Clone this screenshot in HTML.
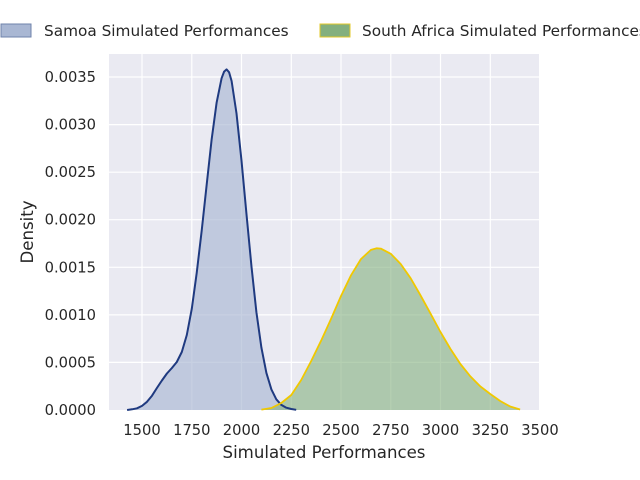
<!DOCTYPE html>
<html><head><meta charset="utf-8"><style>
body{margin:0;background:#fff;}
svg{display:block;font-family:"DejaVu Sans","Liberation Sans",sans-serif;}
</style></head><body>
<svg width="640" height="480" viewBox="0 0 640 480">
<rect x="109" y="54" width="430" height="356" fill="#eaeaf2"/>
<g stroke="#fff" stroke-width="1.2">
<line x1="142" x2="142" y1="54" y2="410"/><line x1="191.8" x2="191.8" y1="54" y2="410"/>
<line x1="241.5" x2="241.5" y1="54" y2="410"/><line x1="291.3" x2="291.3" y1="54" y2="410"/>
<line x1="341" x2="341" y1="54" y2="410"/><line x1="390.8" x2="390.8" y1="54" y2="410"/>
<line x1="440.5" x2="440.5" y1="54" y2="410"/><line x1="490.3" x2="490.3" y1="54" y2="410"/>
<line x1="109" x2="539" y1="362.4" y2="362.4"/><line x1="109" x2="539" y1="314.9" y2="314.9"/>
<line x1="109" x2="539" y1="267.3" y2="267.3"/><line x1="109" x2="539" y1="219.7" y2="219.7"/>
<line x1="109" x2="539" y1="172.2" y2="172.2"/><line x1="109" x2="539" y1="124.6" y2="124.6"/>
<line x1="109" x2="539" y1="77" y2="77"/>
</g>
<polygon fill="#a9b7d3" fill-opacity="0.65" points="127.1,410 132.1,409.3 137,408.3 142,405.9 147,401.8 152,395.7 156.9,388 161.9,380.5 166.9,373.5 171.9,368 176.8,362 181.8,352 186.8,335 191.8,308.7 196.7,273 201.7,230.6 206.7,184.5 211.6,139.8 216.6,102.7 221.6,78.2 224.1,71.6 226.6,69.4 229.1,72.3 231.6,81 236.5,113.4 241.5,160.6 246.5,214.3 251.5,266.7 256.4,312.1 261.4,347.6 266.4,372.9 271.4,389.4 276.3,399.3 281.3,404.9 286.3,407.7 291.3,409 296.2,409.8 296.2,410"/>
<polygon fill="#83b07e" fill-opacity="0.6" points="261.4,410 261.4,409.6 271.4,408 281.3,403 291.3,395 301.2,380 311.2,361 321.1,340.7 331.1,318.7 341,296 351,275.3 360.9,259.1 370.9,249.9 376.8,248.3 380.8,248.6 390.8,253.8 400.7,264 410.7,278.3 420.6,295.5 430.6,313.7 440.5,332 450.5,349 460.4,364 470.4,376.4 480.3,386.4 490.3,394 500.2,401 510.2,406.5 520.1,409.5 520.1,410"/>
<polyline fill="none" stroke="#1f3a80" stroke-width="2" stroke-linejoin="round" points="127.1,410 132.1,409.3 137,408.3 142,405.9 147,401.8 152,395.7 156.9,388 161.9,380.5 166.9,373.5 171.9,368 176.8,362 181.8,352 186.8,335 191.8,308.7 196.7,273 201.7,230.6 206.7,184.5 211.6,139.8 216.6,102.7 221.6,78.2 224.1,71.6 226.6,69.4 229.1,72.3 231.6,81 236.5,113.4 241.5,160.6 246.5,214.3 251.5,266.7 256.4,312.1 261.4,347.6 266.4,372.9 271.4,389.4 276.3,399.3 281.3,404.9 286.3,407.7 291.3,409 296.2,409.8"/>
<polyline fill="none" stroke="#f0c800" stroke-width="1.8" stroke-linejoin="round" points="261.4,409.6 271.4,408 281.3,403 291.3,395 301.2,380 311.2,361 321.1,340.7 331.1,318.7 341,296 351,275.3 360.9,259.1 370.9,249.9 376.8,248.3 380.8,248.6 390.8,253.8 400.7,264 410.7,278.3 420.6,295.5 430.6,313.7 440.5,332 450.5,349 460.4,364 470.4,376.4 480.3,386.4 490.3,394 500.2,401 510.2,406.5 520.1,409.5"/>
<g font-size="14.7" fill="#262626" text-anchor="middle">
<text x="142" y="435">1500</text><text x="191.8" y="435">1750</text><text x="241.5" y="435">2000</text>
<text x="291.3" y="435">2250</text><text x="341" y="435">2500</text><text x="390.8" y="435">2750</text>
<text x="440.5" y="435">3000</text><text x="490.3" y="435">3250</text><text x="540" y="435">3500</text>
</g>
<g font-size="14.7" fill="#262626" text-anchor="end">
<text x="96" y="415">0.0000</text><text x="96" y="367.4">0.0005</text><text x="96" y="319.9">0.0010</text>
<text x="96" y="272.3">0.0015</text><text x="96" y="224.7">0.0020</text><text x="96" y="177.2">0.0025</text>
<text x="96" y="129.6">0.0030</text><text x="96" y="82">0.0035</text>
</g>
<rect x="1" y="24" width="30" height="13" fill="#a9b7d3" stroke="#6f83ab" stroke-width="1"/>
<text x="44" y="36" font-size="15.3" fill="#262626">Samoa Simulated Performances</text>
<rect x="320" y="24" width="30" height="13" fill="#83b07e" stroke="#e3c92a" stroke-width="1"/>
<text x="362" y="36" font-size="15.3" fill="#262626">South Africa Simulated Performances</text>
<text x="324" y="458" font-size="16.6" fill="#262626" text-anchor="middle">Simulated Performances</text>
<text transform="translate(33,232) rotate(-90)" font-size="16.6" fill="#262626" text-anchor="middle">Density</text>
</svg>
</body></html>
